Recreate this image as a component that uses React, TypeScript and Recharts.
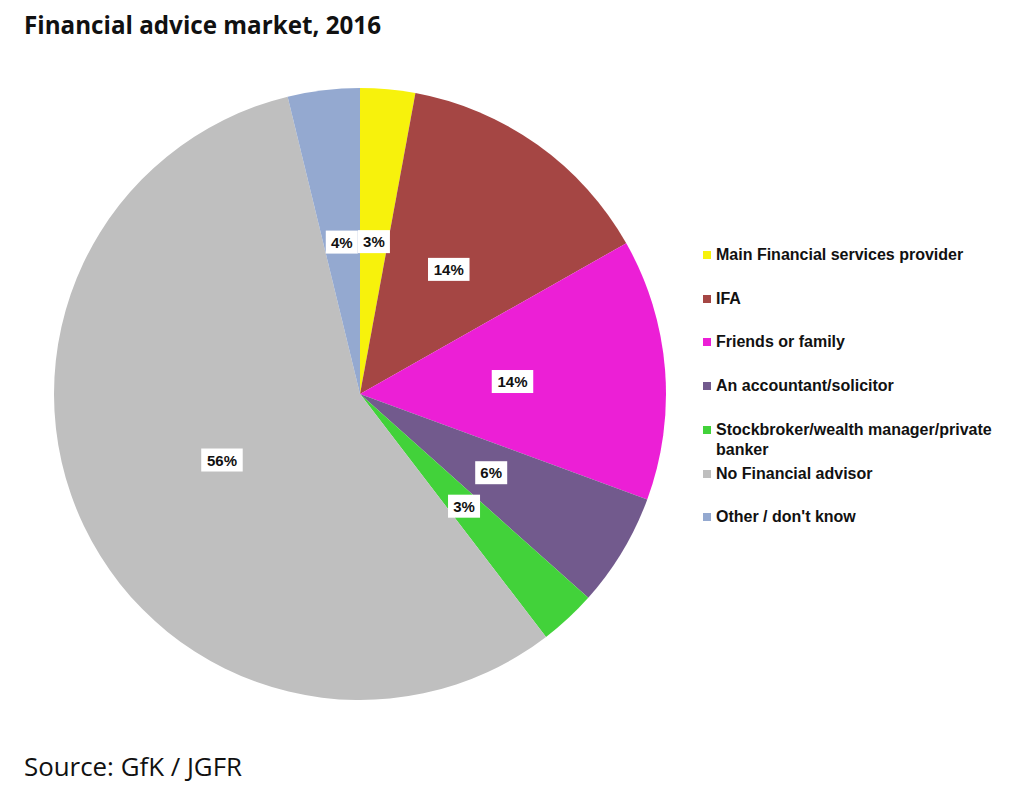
import React from 'react';
import { PieChart, Pie, Cell, Legend } from 'recharts';

const categories = [
  'Main Financial services provider',
  'IFA',
  'Friends or family',
  'An accountant/solicitor',
  'Stockbroker/wealth manager/private banker',
  'No Financial advisor',
  "Other / don't know",
];
const values = [2.9, 13.9, 13.8, 6.0, 3.0, 56.6, 3.8];
const labels = ['3%', '14%', '14%', '6%', '3%', '56%', '4%'];
const colors = ['#f7f20c', '#a54644', '#ec1fd6', '#725a8d', '#42d23a', '#bfbfbf', '#94a9d0'];

const data = categories.map((name, i) => ({ name, value: values[i], label: labels[i], color: colors[i] }));

const RAD = Math.PI / 180;

const renderLabel = (props: any) => {
  const { cx, cy, midAngle, outerRadius, index } = props;
  const r = outerRadius * 0.5;
  const x = cx + r * Math.cos(-midAngle * RAD);
  const y = cy + r * Math.sin(-midAngle * RAD);
  const text = labels[index];
  const w = text.length * 9.5 + 13;
  const h = 23;
  return (
    <g key={`lbl-${index}`}>
      <rect x={x - w / 2} y={y - h / 2} width={w} height={h} fill="#ffffff" />
      <text
        x={x}
        y={y + 5.5}
        textAnchor="middle"
        fontFamily="'Liberation Sans', Arial, sans-serif"
        fontWeight="bold"
        fontSize={15}
        fill="#111"
      >
        {text}
      </text>
    </g>
  );
};

const LegendContent = () => (
  <div style={{ fontFamily: "'Liberation Sans', Arial, sans-serif", fontWeight: 'bold', fontSize: 16, color: '#111' }}>
    {data.map((d, i) => (
      <div key={d.name} style={{ position: 'absolute', left: 0, top: i * 43.7, width: 320, display: 'flex', alignItems: 'flex-start' }}>
        <div style={{ width: 8, height: 8, background: d.color, marginTop: 6, marginRight: 5, flexShrink: 0 }} />
        <div style={{ lineHeight: '20px', width: 305 }}>
          {i === 4 ? (<>Stockbroker/wealth manager/private<br />banker</>) : d.name}
        </div>
      </div>
    ))}
  </div>
);

export default function App() {
  return (
    <div style={{ position: 'absolute', left: 0, top: 0, width: 1024, height: 793, background: '#fff' }}>
      <PieChart width={1024} height={793} margin={{ top: 0, right: 0, bottom: 0, left: 0 }}>
        <Pie
          data={data}
          dataKey="value"
          nameKey="name"
          cx={360}
          cy={394}
          outerRadius={306}
          startAngle={90}
          endAngle={-270}
          stroke="none"
          label={renderLabel}
          labelLine={false}
          isAnimationActive={false}
        >
          {data.map((d) => (
            <Cell key={d.name} fill={d.color} />
          ))}
        </Pie>
        <Legend
          content={<LegendContent />}
          wrapperStyle={{ position: 'absolute', left: 703, top: 245, width: 320, height: 300 }}
        />
      </PieChart>
      <svg width={1024} height={793} style={{ position: 'absolute', left: 0, top: 0, pointerEvents: 'none' }}>
        <text x={24} y={34} fontFamily="'Open Sans', sans-serif" fontWeight="bold" fontSize={25} fill="#111" textLength={357} lengthAdjust="spacingAndGlyphs">
          Financial advice market, 2016
        </text>
        <text x={24} y={776} fontFamily="'Open Sans', sans-serif" fontSize={26} fill="#111" textLength={218} lengthAdjust="spacingAndGlyphs">
          Source: GfK / JGFR
        </text>
      </svg>
    </div>
  );
}
